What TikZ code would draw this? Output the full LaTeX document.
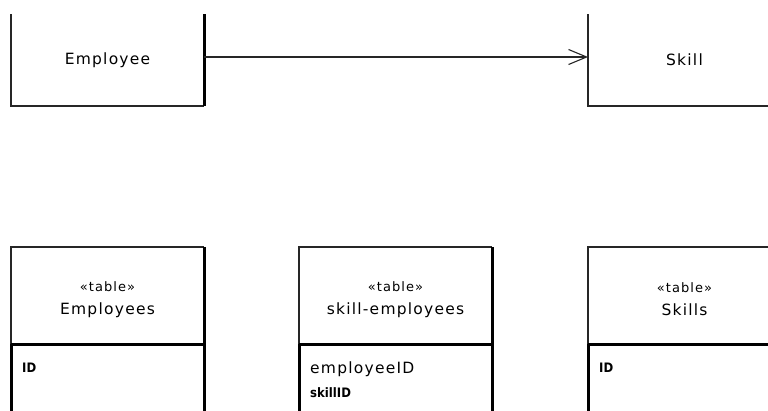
\documentclass[tikz,border=0pt]{standalone}
\usepackage{fontspec}
\setmainfont{DejaVu Sans}[LetterSpace=8]
\newfontfamily\idfont{DejaVu Sans Condensed}
\usetikzlibrary{arrows.meta}
\begin{document}
\begin{tikzpicture}[x=1pt,y=-1pt,
  thinline/.style={line width=1.3pt,black!85},
  thickline/.style={line width=3pt,black},
  boxnode/.style={draw=none,minimum width=193pt,inner sep=0pt,outer sep=0pt,font=\fontsize{15.5}{18}\selectfont,align=center},
  titletext/.style={inner sep=0pt,font=\fontsize{15.5}{18}\selectfont,align=center},
  idtext/.style={anchor=west,inner sep=0pt,font=\idfont\bfseries\fontsize{13}{15}\selectfont},
  fieldtext/.style={anchor=west,inner sep=0pt,font=\fontsize{15.5}{18}\selectfont}]
\clip (0,0) rectangle (768,410);
\fill[white] (0,0) rectangle (768,410);

% top classes
\node[boxnode,minimum height=92pt] (employee) at (107.5,60) {Employee};
\node[boxnode,minimum height=92pt] (skill) at (684.5,60) {Skill};
\draw[thinline] (employee.north west) -- (employee.south west) -- (employee.south east);
\draw[thickline] (employee.south east) -- (employee.north east);
\draw[thinline] (skill.north west) -- (skill.south west) -- (skill.south east);
\draw[thinline,-{Straight Barb[length=18pt,width=15pt,line width=1.1pt]}] ([yshift=3pt]employee.east) -- ([yshift=3pt]skill.west);

% tables
\foreach \nm/\cx/\ttl in {emps/107.5/Employees, skemp/395.5/skill-employees, skills/684.5/Skills}{
  \node[boxnode,minimum height=97pt] (\nm) at (\cx,295.5) {};
  \node[titletext] (\nm-title) at ([yshift=-4pt]\nm.center) {{\fontsize{13}{15}\selectfont «table»}\\[5pt]\ttl};
  \node[boxnode,minimum height=80pt,anchor=north] (\nm-body) at (\nm.south) {};
  \draw[thinline] (\nm.south west) -- (\nm.north west) -- (\nm.north east);
  \draw[thickline] (\nm.north east) -- (\nm-body.south east);
  \draw[thickline] (\nm.south west) -- (\nm.south east);
  \draw[thickline] (\nm-body.north west) -- (\nm-body.south west);
}
\node[idtext] (empid) at (22,368) {ID};
\node[fieldtext] (skeid) at (310,369) {employeeID};
\node[idtext] (sksid) at (310,393) {skillID};
\node[idtext] (skid) at (599,368) {ID};
\end{tikzpicture}
\end{document}
